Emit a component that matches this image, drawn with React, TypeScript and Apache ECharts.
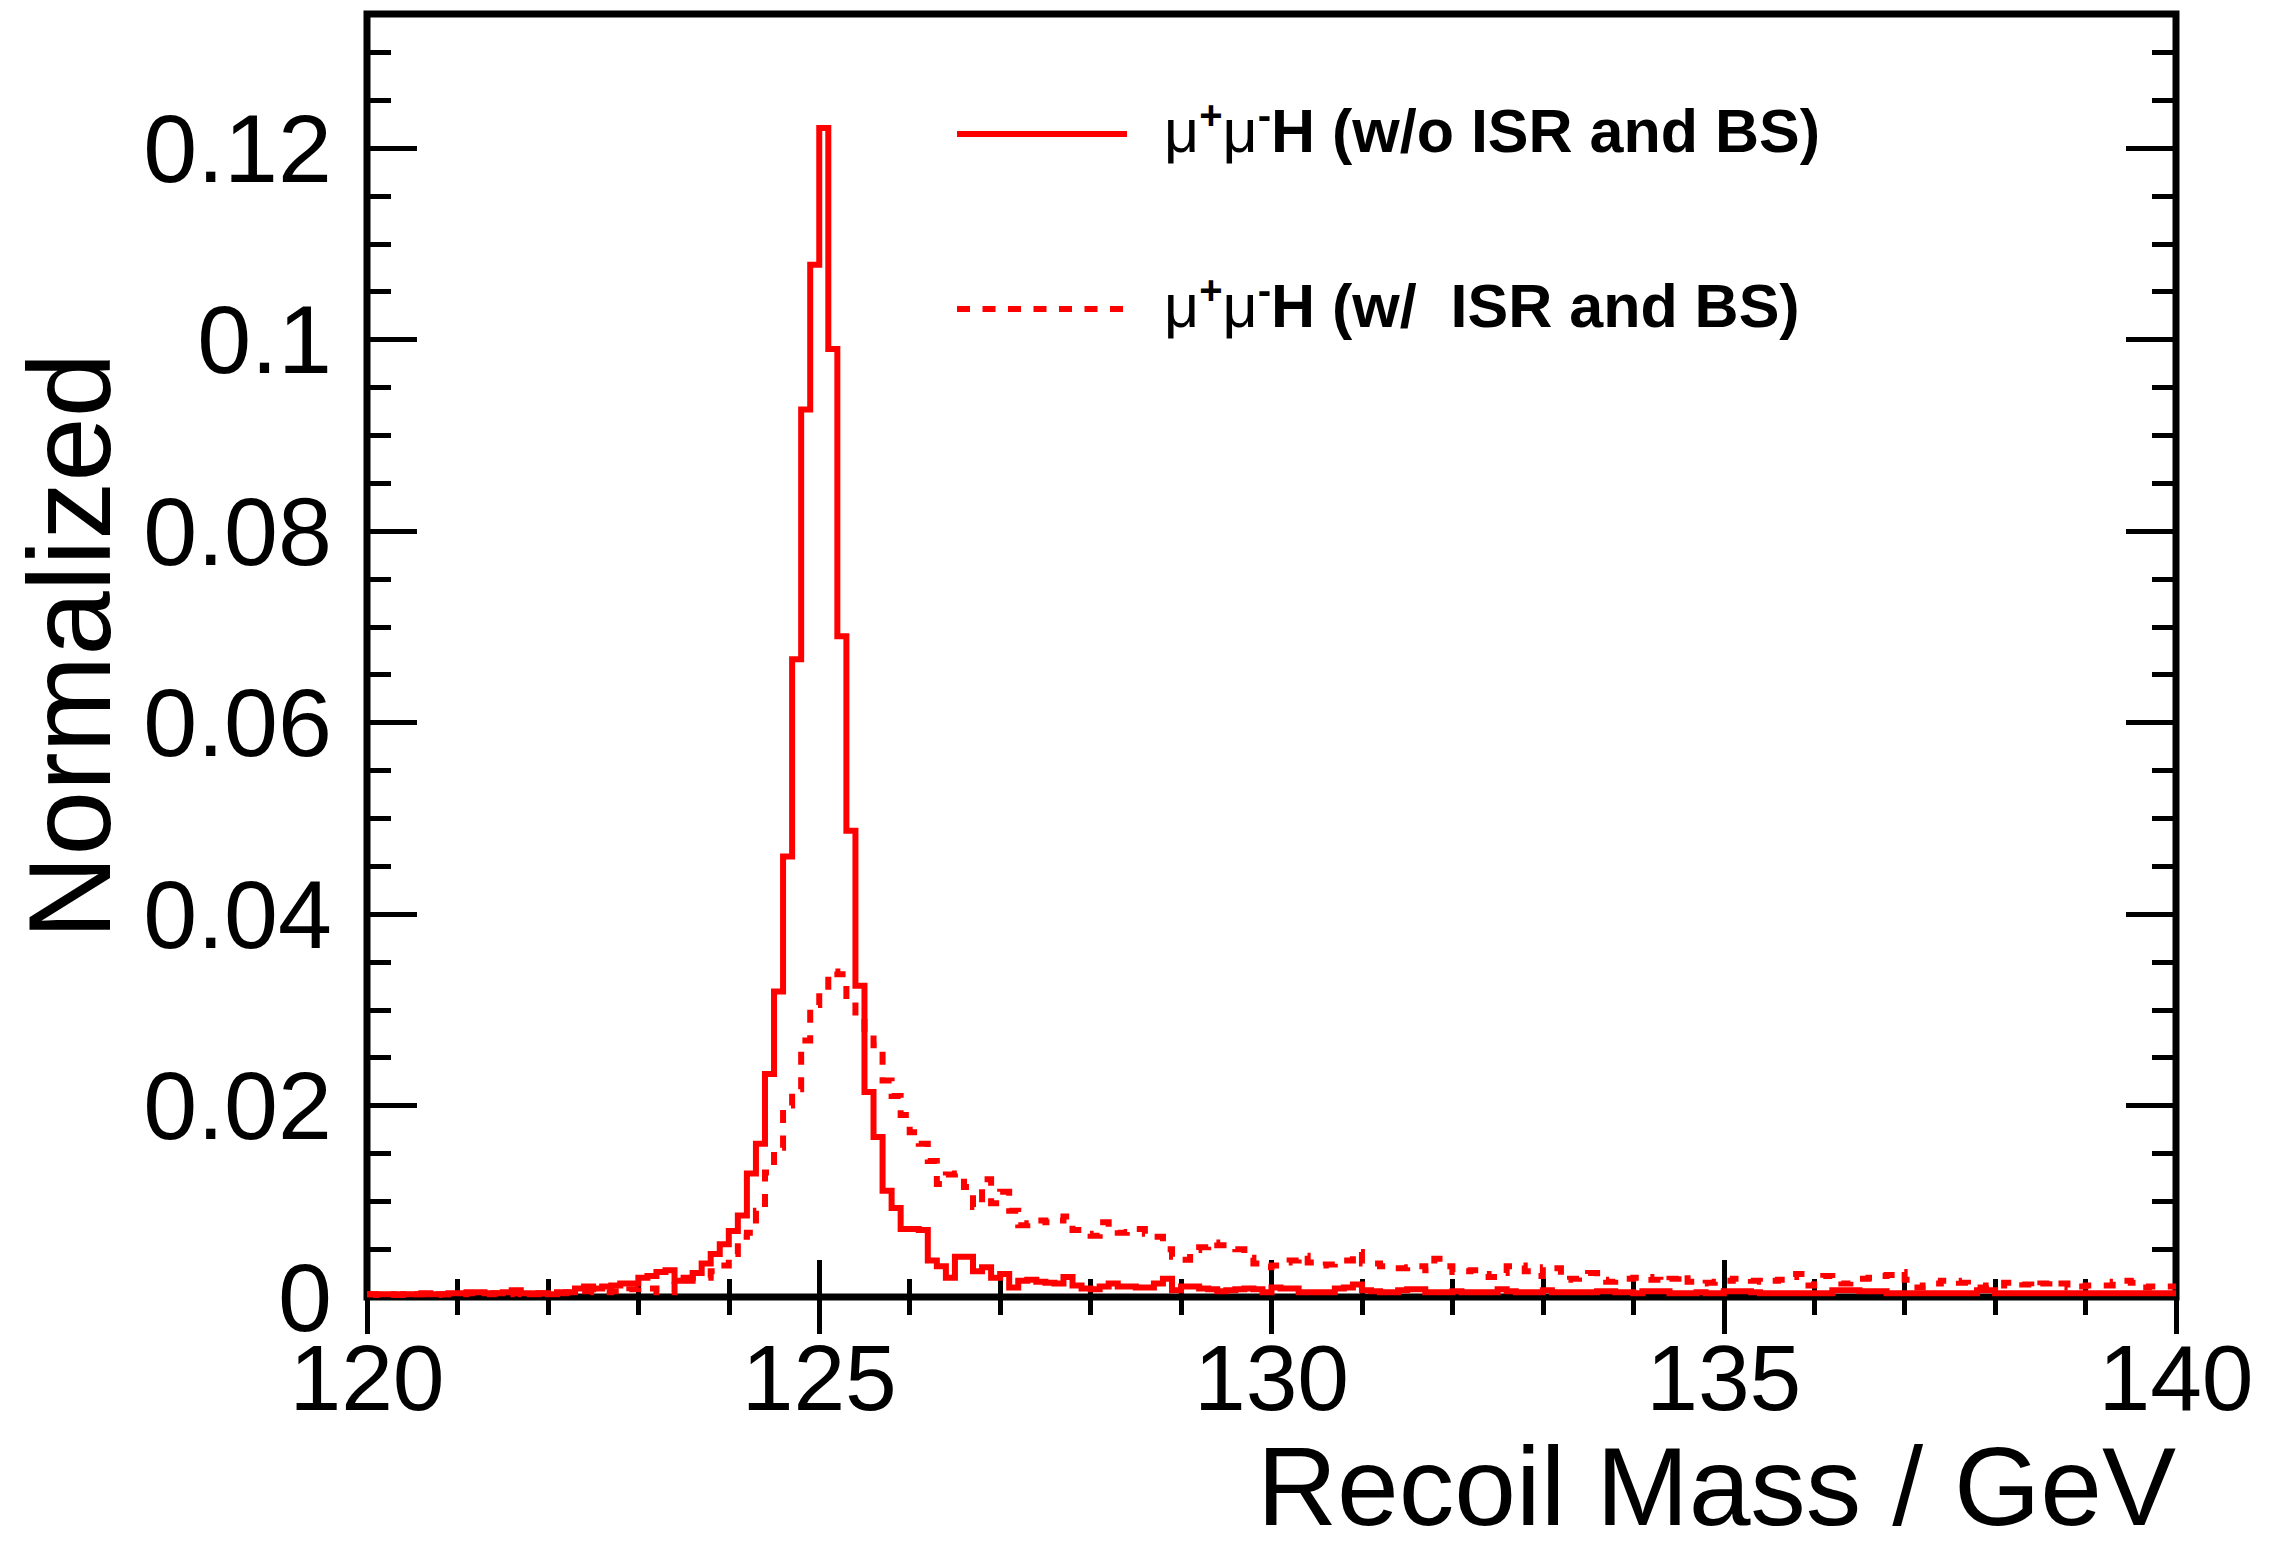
import React, { useEffect, useRef } from "react";
import * as echarts from "echarts";

// Histogram binning (GeV)
const BIN_START = 120;
const BIN_WIDTH = 0.1;

// mu+mu-H recoil mass, without ISR and beamstrahlung (200 bins, 120-140 GeV)
const noIsr: number[] = [
  0.0003, 0.0003, 0.0003, 0.0002, 0.0003, 0.0003, 0.0004, 0.0003, 0.0003, 0.0004,
  0.0004, 0.0005, 0.0005, 0.0004, 0.0004, 0.0005, 0.0007, 0.0004, 0.0003, 0.0004,
  0.0003, 0.0005, 0.0005, 0.0009, 0.0011, 0.0009, 0.0011, 0.0012, 0.0014, 0.0014,
  0.0020, 0.0022, 0.0026, 0.0028, 0.0017, 0.0020, 0.0025, 0.0035, 0.0045, 0.0055,
  0.0069, 0.0085, 0.0129, 0.0160, 0.0233, 0.0319, 0.0460, 0.0666, 0.0927, 0.1078,
  0.1221, 0.0990, 0.0690, 0.0487, 0.0325, 0.0214, 0.0167, 0.0111, 0.0093, 0.0071,
  0.0071, 0.0070, 0.0038, 0.0032, 0.0020, 0.0042, 0.0042, 0.0027, 0.0031, 0.0020,
  0.0024, 0.0010, 0.0017, 0.0018, 0.0016, 0.0015, 0.0014, 0.0021, 0.0012, 0.0009,
  0.0008, 0.0011, 0.0014, 0.0011, 0.0011, 0.0010, 0.0010, 0.0014, 0.0019, 0.0007,
  0.0011, 0.0011, 0.0009, 0.0008, 0.0006, 0.0007, 0.0008, 0.0009, 0.0008, 0.0005,
  0.0010, 0.0009, 0.0009, 0.0005, 0.0005, 0.0005, 0.0005, 0.0009, 0.0010, 0.0013,
  0.0007, 0.0006, 0.0005, 0.0005, 0.0007, 0.0008, 0.0008, 0.0005, 0.0005, 0.0005,
  0.0006, 0.0005, 0.0005, 0.0005, 0.0005, 0.0008, 0.0006, 0.0005, 0.0005, 0.0005,
  0.0007, 0.0005, 0.0005, 0.0005, 0.0005, 0.0005, 0.0006, 0.0006, 0.0005, 0.0005,
  0.0004, 0.0006, 0.0006, 0.0006, 0.0004, 0.0004, 0.0004, 0.0005, 0.0004, 0.0004,
  0.0006, 0.0006, 0.0006, 0.0005, 0.0004, 0.0004, 0.0004, 0.0004, 0.0004, 0.0004,
  0.0004, 0.0004, 0.0007, 0.0007, 0.0007, 0.0006, 0.0006, 0.0006, 0.0004, 0.0004,
  0.0004, 0.0004, 0.0004, 0.0004, 0.0004, 0.0004, 0.0004, 0.0004, 0.0007, 0.0007,
  0.0004, 0.0004, 0.0004, 0.0004, 0.0004, 0.0004, 0.0004, 0.0004, 0.0004, 0.0004,
  0.0004, 0.0004, 0.0004, 0.0004, 0.0004, 0.0004, 0.0004, 0.0004, 0.0004, 0.0004,
];

// mu+mu-H recoil mass, with ISR and beamstrahlung (200 bins, 120-140 GeV)
const withIsr: number[] = [
  0.0003, 0.0002, 0.0003, 0.0003, 0.0002, 0.0003, 0.0003, 0.0002, 0.0003, 0.0003,
  0.0003, 0.0004, 0.0003, 0.0003, 0.0004, 0.0003, 0.0004, 0.0003, 0.0004, 0.0004,
  0.0004, 0.0004, 0.0005, 0.0006, 0.0006, 0.0005, 0.0005, 0.0006, 0.0005, 0.0008,
  0.0010, 0.0009, 0.0005, 0.0005, 0.0017, 0.0017, 0.0020, 0.0020, 0.0027, 0.0033,
  0.0045, 0.0063, 0.0067, 0.0090, 0.0130, 0.0156, 0.0200, 0.0217, 0.0268, 0.0305,
  0.0318, 0.0340, 0.0337, 0.0310, 0.0292, 0.0275, 0.0263, 0.0226, 0.0210, 0.0190,
  0.0172, 0.0160, 0.0142, 0.0118, 0.0128, 0.0129, 0.0115, 0.0094, 0.0123, 0.0098,
  0.0110, 0.0090, 0.0075, 0.0077, 0.0080, 0.0078, 0.0080, 0.0084, 0.0070, 0.0066,
  0.0064, 0.0078, 0.0072, 0.0067, 0.0068, 0.0071, 0.0066, 0.0063, 0.0050, 0.0042,
  0.0039, 0.0049, 0.0052, 0.0057, 0.0054, 0.0054, 0.0050, 0.0041, 0.0035, 0.0031,
  0.0033, 0.0036, 0.0038, 0.0043, 0.0036, 0.0033, 0.0034, 0.0035, 0.0038, 0.0047,
  0.0035, 0.0035, 0.0032, 0.0030, 0.0030, 0.0031, 0.0032, 0.0028, 0.0040, 0.0032,
  0.0026, 0.0027, 0.0028, 0.0024, 0.0021, 0.0025, 0.0032, 0.0033, 0.0027, 0.0022,
  0.0031, 0.0030, 0.0018, 0.0019, 0.0021, 0.0025, 0.0018, 0.0016, 0.0018, 0.0019,
  0.0020, 0.0021, 0.0018, 0.0016, 0.0019, 0.0024, 0.0016, 0.0014, 0.0015, 0.0016,
  0.0017, 0.0019, 0.0019, 0.0017, 0.0016, 0.0017, 0.0018, 0.0021, 0.0024, 0.0012,
  0.0018, 0.0022, 0.0018, 0.0014, 0.0016, 0.0019, 0.0020, 0.0022, 0.0023, 0.0026,
  0.0018, 0.0010, 0.0012, 0.0014, 0.0017, 0.0017, 0.0015, 0.0013, 0.0010, 0.0012,
  0.0012, 0.0015, 0.0016, 0.0013, 0.0010, 0.0014, 0.0017, 0.0014, 0.0010, 0.0011,
  0.0012, 0.0012, 0.0012, 0.0016, 0.0017, 0.0015, 0.0010, 0.0011, 0.0011, 0.0011,
];

const X_MIN = 120;
const X_MAX = 140;
const X_MAJOR = 5;
const Y_MIN = 0;
const Y_MAX = 0.134;
const Y_MAJOR = 0.02;
const Y_MINOR = 0.005;

const SERIES_NAMES = ["μ+μ-H (w/o ISR and BS)", "μ+μ-H (w/  ISR and BS)"];
const LEGEND_TAILS = ["H (w/o ISR and BS)", "H (w/  ISR and BS)"];
const X_TITLE = "Recoil Mass / GeV";
const Y_TITLE = "Normalized";

const FONT = '"Liberation Sans", Arial, Helvetica, sans-serif';
const RED = "#ff0000";
const DASH = [13, 12.5];

function toSteps(vals: number[]) {
  const pts = vals.map((v, i) => [+(BIN_START + i * BIN_WIDTH).toFixed(2), v]);
  pts.push([+(BIN_START + vals.length * BIN_WIDTH).toFixed(2), vals[vals.length - 1]]);
  return pts;
}

const tickLine = { color: "#000", width: 5 };

function xAxisDef(position: "bottom" | "top", labels: boolean) {
  return {
    type: "value",
    min: X_MIN,
    max: X_MAX,
    interval: X_MAJOR,
    position,
    axisLine: { show: false },
    axisTick: { show: true, inside: true, length: 37, lineStyle: tickLine },
    minorTick: { show: true, splitNumber: 5, length: 18, lineStyle: tickLine },
    splitLine: { show: false },
    minorSplitLine: { show: false },
    axisLabel: labels
      ? {
          show: true,
          fontSize: 93,
          lineHeight: 70,
          color: "#000",
          fontFamily: FONT,
          margin: 46,
          showMinLabel: true,
          showMaxLabel: true,
        }
      : { show: false },
  };
}

function yAxisDef(position: "left" | "right", interval: number, len: number, labels: boolean) {
  return {
    type: "value",
    min: Y_MIN,
    max: Y_MAX,
    interval,
    position,
    axisLine: { show: false },
    axisTick: { show: true, inside: true, length: len, lineStyle: tickLine },
    splitLine: { show: false },
    axisLabel: labels
      ? {
          show: true,
          fontSize: 97,
          lineHeight: 70,
          color: "#000",
          fontFamily: FONT,
          margin: 35,
          showMaxLabel: false,
          formatter: (v: number) => {
            const k = Math.round(v / Y_MAJOR);
            if (Math.abs(v - k * Y_MAJOR) > 1e-9) return "";
            if (k === 0) return "0";
            return String(+v.toFixed(2));
          },
        }
      : { show: false },
  };
}

function legendText(x: number, y: number, tail: string) {
  return {
    type: "text",
    x,
    y,
    style: {
      text: `{m|μ}{s|+}{m|μ}{s|-}{b|${tail}}`,
      verticalAlign: "middle",
      align: "left",
      fill: "#000",
      rich: {
        m: { fontSize: 61, fontFamily: FONT, fontWeight: "normal", fill: "#000", lineHeight: 72 },
        s: { fontSize: 40, fontFamily: FONT, fontWeight: "bold", fill: "#000", lineHeight: 38, verticalAlign: "top" },
        b: { fontSize: 61, fontFamily: FONT, fontWeight: "bold", fill: "#000", lineHeight: 72 },
      },
    },
  };
}

export default function App() {
  const ref = useRef<HTMLDivElement>(null);

  useEffect(() => {
    if (!ref.current) return;
    const chart = echarts.init(ref.current, null, { renderer: "svg" });
    const option: any = {
      animation: false,
      backgroundColor: "#fff",
      grid: {
        show: true,
        left: 367,
        right: 109,
        top: 14,
        bottom: 246,
        borderColor: "#000",
        borderWidth: 7,
        backgroundColor: "transparent",
      },
      xAxis: [xAxisDef("bottom", true), xAxisDef("top", false)],
      yAxis: [
        yAxisDef("left", Y_MAJOR, 50, true),
        yAxisDef("left", Y_MINOR, 24, false),
        yAxisDef("right", Y_MAJOR, 50, false),
        yAxisDef("right", Y_MINOR, 24, false),
      ],
      series: [
        {
          name: SERIES_NAMES[0],
          type: "line",
          xAxisIndex: 0,
          yAxisIndex: 0,
          step: "end",
          showSymbol: false,
          symbol: "none",
          data: toSteps(noIsr),
          lineStyle: { color: RED, width: 6, type: "solid", join: "miter", cap: "butt" },
          z: 3,
        },
        {
          name: SERIES_NAMES[1],
          type: "line",
          xAxisIndex: 0,
          yAxisIndex: 0,
          step: "end",
          showSymbol: false,
          symbol: "none",
          data: toSteps(withIsr),
          lineStyle: { color: RED, width: 6, type: DASH, join: "miter", cap: "butt" },
          z: 4,
        },
      ],
      graphic: [
        {
          type: "line",
          shape: { x1: 957, y1: 134, x2: 1127, y2: 134 },
          style: { stroke: RED, lineWidth: 6 },
        },
        legendText(1164, 131, LEGEND_TAILS[0]),
        {
          type: "line",
          shape: { x1: 957, y1: 309, x2: 1127, y2: 309 },
          style: { stroke: RED, lineWidth: 6, lineDash: DASH },
        },
        legendText(1164, 306, LEGEND_TAILS[1]),
        {
          type: "text",
          x: 2176,
          y: 1487,
          style: {
            text: X_TITLE,
            fontSize: 111,
            lineHeight: 88,
            fontFamily: FONT,
            fill: "#000",
            align: "right",
            verticalAlign: "middle",
          },
        },
        {
          type: "text",
          x: 70,
          y: 646,
          rotation: Math.PI / 2,
          style: {
            text: Y_TITLE,
            fontSize: 116,
            lineHeight: 100,
            fontFamily: FONT,
            fill: "#000",
            align: "center",
            verticalAlign: "middle",
          },
        },
      ],
    };
    chart.setOption(option);
    return () => chart.dispose();
  }, []);

  return (
    <div
      ref={ref}
      style={{ position: "fixed", left: 0, top: 0, width: 2285, height: 1543, background: "#fff" }}
    />
  );
}
